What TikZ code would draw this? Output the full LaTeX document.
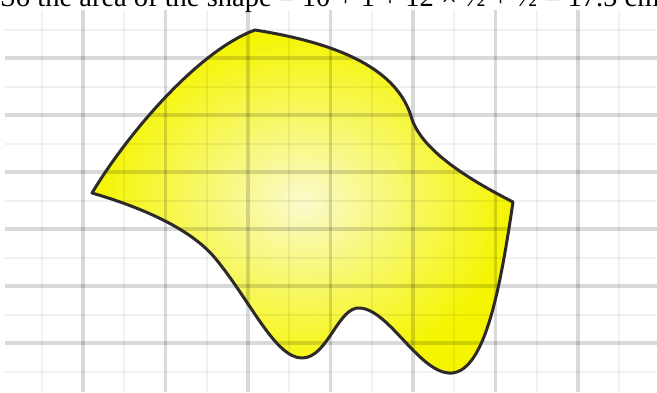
\documentclass[tikz,border=0pt]{standalone}
\usepackage{fontspec}
\setmainfont{Liberation Serif}

% outline of the yellow shape, used twice (fill and stroke)
\newcommand{\blobline}{%
  (92,193) .. controls (130,130) and (200,50) .. (255,30)
  .. controls (330,42) and (395,65) .. (411,116)
  .. controls (420,150) and (470,180) .. (513,202)
  .. controls (500,290) and (485,370) .. (452,373)
  .. controls (420,375) and (390,310) .. (360,308)
  .. controls (338,306) and (328,358) .. (302,358)
  .. controls (275,358) and (250,300) .. (215,258)
  .. controls (190,228) and (140,207) .. (92,193) -- cycle}

\begin{document}
\begin{tikzpicture}[x=1pt,y=-1pt,
    majorline/.style={line width=3.2pt, black, opacity=0.15},
    minorline/.style={line width=2pt, black, opacity=0.055}]
    \definecolor{shapeyellow}{RGB}{245,245,0}
    \definecolor{shapecentre}{RGB}{250,250,205}
    \definecolor{shapeedge}{RGB}{45,42,40}

    \useasboundingbox (0,0) rectangle (657,392);
    \clip (0,0) rectangle (657,392);
    \fill[white] (0,0) rectangle (657,392);

    \node[anchor=base west, inner sep=0pt, font=\fontsize{28.5}{32}\selectfont] (sum)
        at (0,6) {So the area of the shape = 10 + 1 + 12 × ½ + ½ = 17.5 cm²};

    % the shape, then the grid through it
    \shade[inner color=shapecentre, outer color=shapeyellow] \blobline;

    \foreach \k in {0,...,7} {
        \pgfmathsetmacro{\xa}{41.5+82.5*\k}
        \pgfmathsetmacro{\xb}{83+82.5*\k}
        \draw[minorline] (\xa,10) -- (\xa,392);
        \draw[majorline] (\xb,10) -- (\xb,392);
    }
    \foreach \k in {0,...,6} {
        \pgfmathsetmacro{\ya}{30+57*\k}
        \pgfmathsetmacro{\yb}{58+57*\k}
        \draw[minorline] (5,\ya) -- (657,\ya);
        \draw[majorline] (5,\yb) -- (657,\yb);
    }

    \draw[shapeedge, line width=3pt, line join=round] \blobline;
\end{tikzpicture}
\end{document}
